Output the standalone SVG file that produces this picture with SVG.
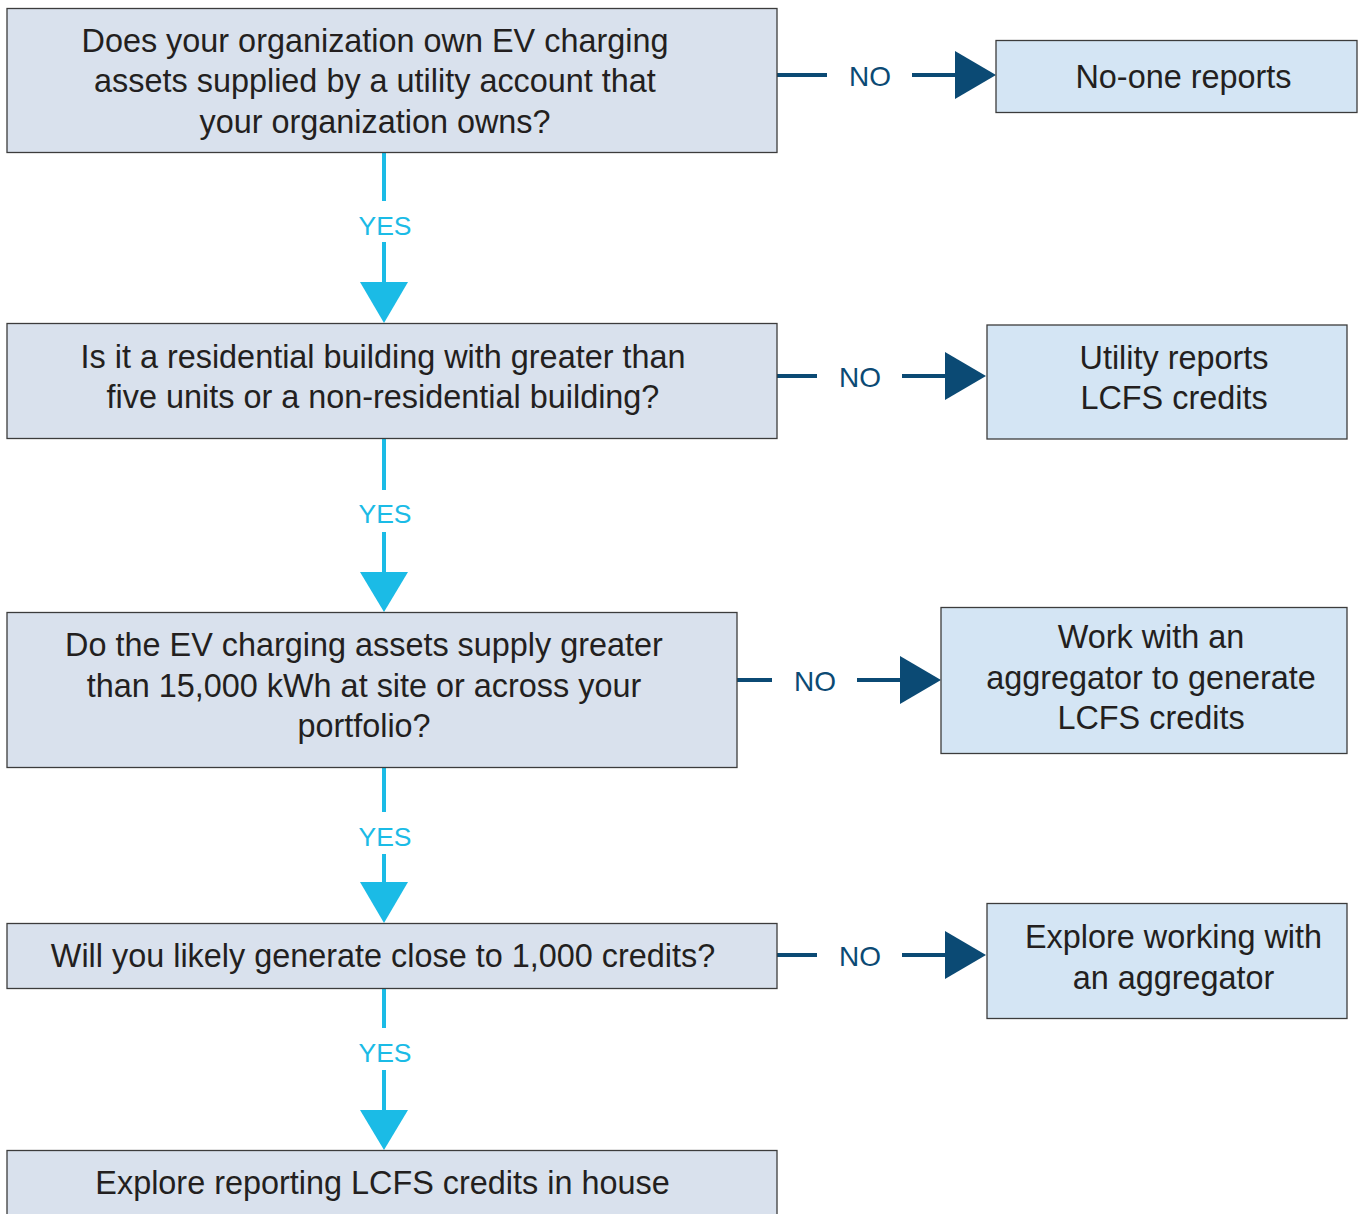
<svg xmlns="http://www.w3.org/2000/svg" width="1364" height="1214" viewBox="0 0 1364 1214">
  <style>
    .q { fill: #d9e1ed; stroke: #3c3c3c; stroke-width: 1.3; }
    .a { fill: #d4e5f4; stroke: #3c3c3c; stroke-width: 1.3; }
    .t { font-family: "Liberation Sans", Arial, sans-serif; font-size: 32.4px; fill: #231f20; text-anchor: middle; }
    .yes { font-family: "Liberation Sans", Arial, sans-serif; font-size: 26.5px; fill: #1bbbe6; text-anchor: middle; }
    .no { font-family: "Liberation Sans", Arial, sans-serif; font-size: 28px; fill: #0b4a74; text-anchor: middle; }
    .yl { stroke: #1bbbe6; stroke-width: 4; fill: none; }
    .nl { stroke: #0b4a74; stroke-width: 4; fill: none; }
    .yh { fill: #1bbbe6; }
    .nh { fill: #0b4a74; }
  </style>
  <rect width="1364" height="1214" fill="#ffffff"/>

  <!-- connectors -->
  <g id="connectors">
    <!-- yes path 1 -->
    <line class="yl" x1="384" y1="152" x2="384" y2="201"/>
    <text class="yes" x="385" y="235">YES</text>
    <line class="yl" x1="384" y1="242" x2="384" y2="284"/>
    <polygon class="yh" points="360,282 408,282 384,323"/>
    <!-- no path 1 -->
    <line class="nl" x1="777" y1="75" x2="827" y2="75"/>
    <text class="no" x="870" y="86">NO</text>
    <line class="nl" x1="912" y1="75" x2="957" y2="75"/>
    <polygon class="nh" points="955,51 996,75 955,99"/>

    <!-- yes path 2 -->
    <line class="yl" x1="384" y1="438" x2="384" y2="490"/>
    <text class="yes" x="385" y="523">YES</text>
    <line class="yl" x1="384" y1="532" x2="384" y2="574"/>
    <polygon class="yh" points="360,572 408,572 384,612"/>
    <!-- no path 2 -->
    <line class="nl" x1="777" y1="376" x2="817" y2="376"/>
    <text class="no" x="860" y="387">NO</text>
    <line class="nl" x1="902" y1="376" x2="947" y2="376"/>
    <polygon class="nh" points="945,352 986,376 945,400"/>

    <!-- yes path 3 -->
    <line class="yl" x1="384" y1="767" x2="384" y2="812"/>
    <text class="yes" x="385" y="846">YES</text>
    <line class="yl" x1="384" y1="854" x2="384" y2="884"/>
    <polygon class="yh" points="360,882 408,882 384,923"/>
    <!-- no path 3 -->
    <line class="nl" x1="737" y1="680" x2="772" y2="680"/>
    <text class="no" x="815" y="691">NO</text>
    <line class="nl" x1="857" y1="680" x2="902" y2="680"/>
    <polygon class="nh" points="900,656 941,680 900,704"/>

    <!-- yes path 4 -->
    <line class="yl" x1="384" y1="988" x2="384" y2="1028"/>
    <text class="yes" x="385" y="1062">YES</text>
    <line class="yl" x1="384" y1="1070" x2="384" y2="1112"/>
    <polygon class="yh" points="360,1110 408,1110 384,1150"/>
    <!-- no path 4 -->
    <line class="nl" x1="777" y1="955" x2="817" y2="955"/>
    <text class="no" x="860" y="966">NO</text>
    <line class="nl" x1="902" y1="955" x2="947" y2="955"/>
    <polygon class="nh" points="945,931 986,955 945,979"/>
  </g>

  <!-- question nodes -->
  <g id="q1">
    <rect class="q" x="7" y="8.5" width="770" height="144"/>
    <text class="t" x="375" y="52">Does your organization own EV charging</text>
    <text class="t" x="375" y="92">assets supplied by a utility account that</text>
    <text class="t" x="375" y="133">your organization owns?</text>
  </g>
  <g id="q2">
    <rect class="q" x="7" y="323.5" width="770" height="115"/>
    <text class="t" x="383" y="368">Is it a residential building with greater than</text>
    <text class="t" x="383" y="408">five units or a non-residential building?</text>
  </g>
  <g id="q3">
    <rect class="q" x="7" y="612.5" width="730" height="155"/>
    <text class="t" x="364" y="656">Do the EV charging assets supply greater</text>
    <text class="t" x="364" y="697">than 15,000 kWh at site or across your</text>
    <text class="t" x="364" y="737">portfolio?</text>
  </g>
  <g id="q4">
    <rect class="q" x="7" y="923.5" width="770" height="65"/>
    <text class="t" x="383" y="967">Will you likely generate close to 1,000 credits?</text>
  </g>
  <g id="q5">
    <rect class="q" x="7" y="1150.5" width="770" height="80"/>
    <text class="t" x="382.5" y="1194">Explore reporting LCFS credits in house</text>
  </g>

  <!-- outcome nodes -->
  <g id="r1">
    <rect class="a" x="996" y="40.5" width="361" height="72"/>
    <text class="t" x="1183.5" y="88">No-one reports</text>
  </g>
  <g id="r2">
    <rect class="a" x="987" y="325" width="360" height="114"/>
    <text class="t" x="1174" y="369">Utility reports</text>
    <text class="t" x="1174" y="409">LCFS credits</text>
  </g>
  <g id="r3">
    <rect class="a" x="941" y="607.5" width="406" height="146"/>
    <text class="t" x="1151" y="648">Work with an</text>
    <text class="t" x="1151" y="689">aggregator to generate</text>
    <text class="t" x="1151" y="729">LCFS credits</text>
  </g>
  <g id="r4">
    <rect class="a" x="987" y="903.5" width="360" height="115"/>
    <text class="t" x="1173.5" y="948">Explore working with</text>
    <text class="t" x="1173.5" y="989">an aggregator</text>
  </g>
</svg>
